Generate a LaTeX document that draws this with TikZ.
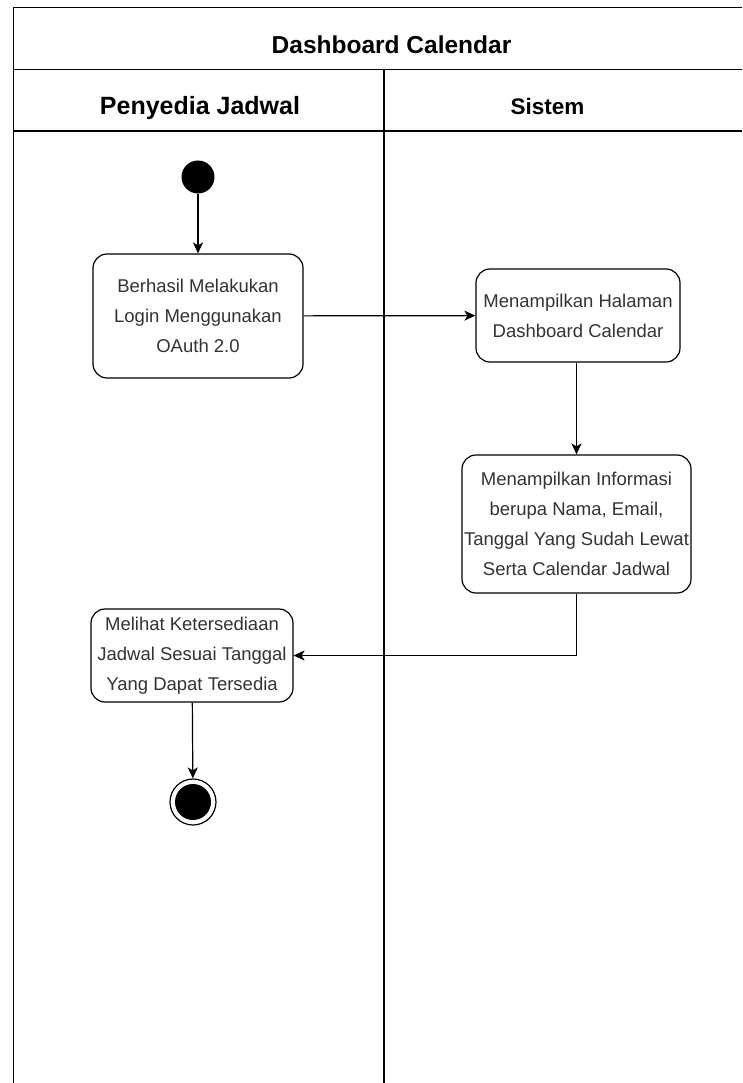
\documentclass[tikz,border=0pt]{standalone}
\usepackage{fontspec}
\setmainfont{Liberation Sans}
\usetikzlibrary{arrows.meta}
\definecolor{inktext}{HTML}{333333}
\begin{document}
\begin{tikzpicture}[x=1pt,y=-1pt,
  lane/.style={line width=1.6pt,draw=black},
  header/.style={font=\bfseries\fontsize{24.5}{28}\selectfont,anchor=base},
  action/.style={draw=black,line width=1.2pt,rounded corners=14pt,inner sep=0pt,
    align=center,text=inktext,font=\fontsize{18.5}{30}\selectfont},
  flow/.style={line width=1.2pt,-{Stealth[length=11pt,width=10pt,inset=3pt]}},
  startstate/.style={circle,fill=black,minimum size=33pt,inner sep=0pt},
  endring/.style={circle,draw=black,line width=1.2pt,fill=white,minimum size=46pt,inner sep=0pt},
]
\useasboundingbox (0,0) rectangle (742,1083);
\fill[white] (0,0) rectangle (742,1083);

% swimlane frame
\draw[lane] (742,7.5) -- (13.5,7.5) -- (13.5,1083);
\draw[lane] (13.5,69.5) -- (742,69.5);
\draw[lane] (13.5,131) -- (742,131);
\draw[lane] (384,69.5) -- (384,1083);

% headings
\node[header] (title) at (391.5,53.5) {Dashboard Calendar};
\node[header,font=\bfseries\fontsize{25}{28}\selectfont] (laneA) at (200,114.5) {Penyedia Jadwal};
\node[header,font=\bfseries\fontsize{22.5}{26}\selectfont] (laneB) at (547.5,114.5) {Sistem};

% states and actions
\node[startstate] (start) at (198,177) {};
\node[action,minimum width=210pt,minimum height=124pt] (login) at (198,316)
  {Berhasil Melakukan\\Login Menggunakan\\OAuth 2.0};
\node[action,minimum width=204pt,minimum height=93pt] (page) at (578,315.5)
  {Menampilkan Halaman\\Dashboard Calendar};
\node[action,minimum width=229pt,minimum height=138pt] (info) at (576.5,524)
  {Menampilkan Informasi\\berupa Nama, Email,\\Tanggal Yang Sudah Lewat\\Serta Calendar Jadwal};
\node[action,minimum width=202pt,minimum height=93pt] (avail) at (192,655.5)
  {Melihat Ketersediaan\\Jadwal Sesuai Tanggal\\Yang Dapat Tersedia};
\node[endring] (final) at (193,802) {};
\node[circle,fill=black,minimum size=36pt,inner sep=0pt] (finaldot) at (final.center) {};

% transitions
\draw[flow] (start) -- (login);
\draw[flow] (login) -- (page);
\draw[flow] (info.north |- page.south) -- (info.north);
\draw[flow] (info.south) |- (avail.east);
\draw[flow] (avail) -- (final);
\end{tikzpicture}
\end{document}
